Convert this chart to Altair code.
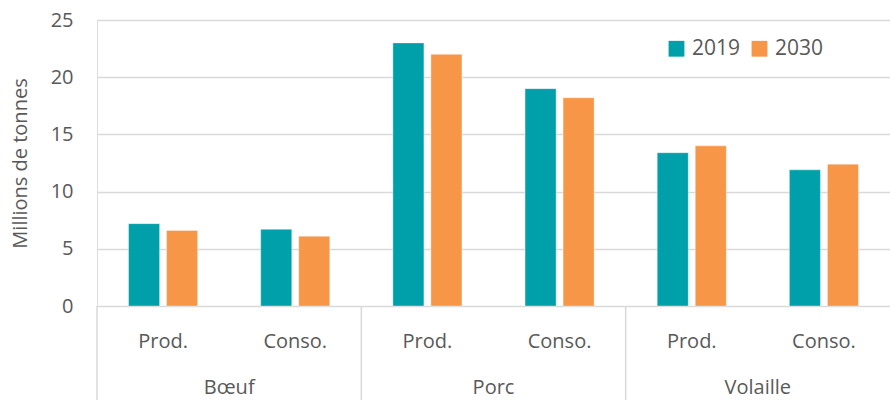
import altair as alt
import pandas as pd

groups = ["Bœuf", "Bœuf", "Porc", "Porc", "Volaille", "Volaille"]
subs = ["Prod.", "Conso.", "Prod.", "Conso.", "Prod.", "Conso."]
v2019 = [7.2, 6.7, 23.0, 19.0, 13.4, 11.9]
v2030 = [6.6, 6.1, 22.0, 18.2, 14.0, 12.4]
years = ["2019", "2030"]
group_names = ["Bœuf", "Porc", "Volaille"]
y_ticks = [0, 5, 10, 15, 20, 25]

colors = ["#00A0AA", "#F79646"]
FONT = "Open Sans"
TXT = "#595959"
GRID = "#D9D9D9"

keys = [g + "|" + s for g, s in zip(groups, subs)]
rows = []
for k, g, s, a, b in zip(keys, groups, subs, v2019, v2030):
    rows.append({"key": k, "group": g, "sub": s, "year": years[0], "value": a})
    rows.append({"key": k, "group": g, "sub": s, "year": years[1], "value": b})
df = pd.DataFrame(rows)

W, H = 793, 286
xscale = alt.Scale(domain=keys, paddingInner=0, paddingOuter=0)

bars = alt.Chart(df).mark_bar(stroke="white", strokeWidth=0.6, strokeOpacity=0.6).encode(
    x=alt.X("key:N", scale=xscale, sort=keys, title=None,
            axis=alt.Axis(labelExpr="split(datum.label, '|')[1]", labelAngle=0,
                          domain=False, ticks=False, labelPadding=25,
                          labelFont=FONT, labelFontSize=20, labelColor=TXT)),
    xOffset=alt.XOffset("year:N", scale=alt.Scale(paddingInner=0.184, paddingOuter=0.83)),
    y=alt.Y("value:Q", scale=alt.Scale(domain=[0, 25]), title="Millions de tonnes",
            axis=alt.Axis(values=y_ticks, grid=True, gridColor=GRID, gridWidth=1.5,
                          domain=False, ticks=False, labelPadding=24,
                          labelFont=FONT, labelFontSize=20, labelColor=TXT,
                          titleFont=FONT, titleFontSize=20, titleColor=TXT,
                          titleFontWeight="normal", titlePadding=20)),
    color=alt.Color("year:N", scale=alt.Scale(domain=years, range=colors), title=None,
                    legend=alt.Legend(orient="none", legendX=569, legendY=18,
                                      direction="horizontal", symbolType="square",
                                      symbolSize=250, symbolStrokeWidth=0,
                                      labelFont=FONT, labelFontSize=21, labelColor=TXT,
                                      columnPadding=8, labelOffset=5)),
)

gdf = pd.DataFrame({"key": [g + "|Prod." for g in group_names], "group": group_names})

sep_left = alt.Chart(gdf).mark_rule(color=GRID, strokeWidth=1.5).encode(
    x=alt.X("key:N", scale=xscale, sort=keys, bandPosition=0),
    y=alt.value(H), y2=alt.value(H + 94),
)

glabels = alt.Chart(gdf).mark_text(font=FONT, fontSize=20, color=TXT, baseline="middle").encode(
    x=alt.X("key:N", scale=xscale, sort=keys, bandPosition=1),
    y=alt.value(H + 82),
    text="group:N",
)

chart = alt.layer(bars, sep_left, glabels).properties(
    width=W, height=H,
    autosize=alt.AutoSizeParams(type="none"),
    padding={"left": 97, "top": 20, "right": 0, "bottom": 94},
).configure_view(stroke=None).configure(background="white")

chart.save("out.html", embed_options={"renderer": "svg", "actions": False})
